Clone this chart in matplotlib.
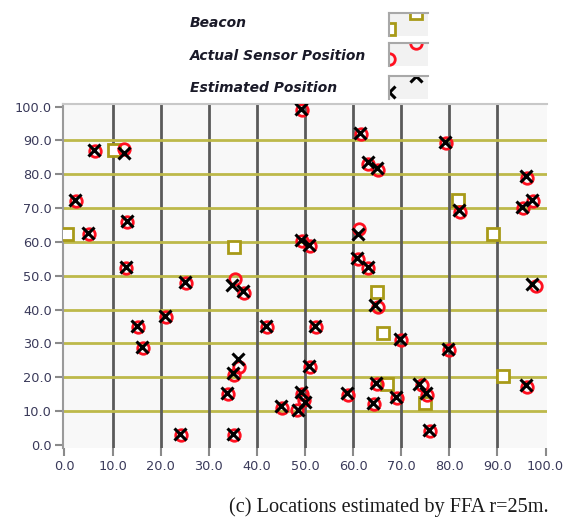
import matplotlib
matplotlib.use("Agg")
import matplotlib.pyplot as plt

# beacon positions
beacon_x = [0.5, 10.4, 35.2, 64.9, 66.3, 67.0, 75.0, 81.9, 89.1, 91.2]
beacon_y = [62.3, 87.2, 58.4, 45.3, 33.1, 18.1, 12.3, 72.3, 62.5, 20.4]

# actual sensor positions
actual_x = [49.4, 61.7, 79.3, 6.3, 12.4, 2.3, 5.1, 13.1, 12.8, 63.2,
            65.1, 96.2, 82.2, 95.3, 97.4, 49.3, 51.0, 61.3, 61.1, 63.2,
            25.2, 35.4, 37.3, 15.3, 16.3, 21.2, 42.0, 36.2, 35.3, 34.0,
            24.3, 35.3, 45.3, 48.3, 49.3, 49.7, 51.0, 52.2, 59.0, 65.1,
            69.9, 79.9, 64.9, 64.4, 69.1, 74.3, 75.3, 76.0, 96.2, 98.1]
actual_y = [99.0, 91.9, 89.2, 86.9, 87.6, 72.0, 62.3, 65.9, 52.3, 83.1,
            81.4, 78.9, 68.9, 69.9, 72.1, 60.3, 58.8, 63.7, 54.9, 52.3,
            47.8, 49.0, 44.9, 34.8, 28.7, 37.8, 34.8, 23.0, 20.8, 15.0,
            2.8, 2.8, 11.0, 10.3, 15.2, 13.2, 23.0, 34.8, 14.9, 40.9,
            30.9, 28.1, 17.9, 12.0, 13.9, 17.6, 14.9, 4.1, 17.2, 47.1]

# estimated positions (FFA)
est_x = [49.2, 61.4, 79.1, 6.1, 12.3, 2.2, 5.0, 12.9, 12.7, 63.0,
         64.9, 96.0, 82.1, 95.1, 97.2, 49.1, 50.8, 61.1, 60.9, 63.0,
         25.0, 34.9, 37.1, 15.1, 16.1, 21.0, 41.8, 36.0, 35.1, 33.8,
         24.1, 35.1, 45.1, 48.6, 49.1, 49.9, 50.8, 52.0, 58.8, 64.6,
         69.7, 79.7, 64.7, 64.2, 68.9, 73.6, 75.1, 75.8, 96.0, 97.2]
est_y = [99.3, 92.3, 89.6, 87.3, 86.3, 72.4, 62.7, 66.3, 52.7, 83.5,
         81.8, 79.4, 69.4, 70.3, 72.5, 60.7, 59.2, 62.5, 55.3, 52.7,
         48.2, 47.4, 45.4, 35.2, 29.1, 38.2, 35.2, 25.5, 21.3, 15.4,
         3.2, 3.2, 11.4, 10.4, 15.6, 12.8, 23.4, 35.2, 15.3, 41.4,
         31.3, 28.5, 18.3, 12.4, 14.3, 18.1, 15.3, 4.5, 17.6, 47.6]

ticks = [0, 10, 20, 30, 40, 50, 60, 70, 80, 90, 100]

olive = '#a89a18'
red = '#ff1020'
hgrid = '#bdb94a'
vgrid = '#5a5a5a'
tickcol = '#3a3a5a'

fig = plt.figure(figsize=(5.63, 5.22), dpi=100)
ax = fig.add_axes([63/563, 1-448/522, (546.5-63)/563, (448-104.3)/522])
ax.set_facecolor('#f8f8f8')
ax.set_xlim(-0.3, 100.2)
ax.set_ylim(-0.9, 100.7)

for v in ticks[1:-1]:
    ax.axvline(v, color=vgrid, lw=2, zorder=1)
    ax.axhline(v, color=hgrid, lw=2, zorder=1)

ax.plot(beacon_x, beacon_y, 's', ms=8.5, mfc='white', mec=olive, mew=2, zorder=3)
ax.plot(actual_x, actual_y, 'o', ms=8.3, mfc='none', mec=red, mew=2, zorder=4)
ax.plot(est_x, est_y, 'x', ms=8.5, color='black', mew=2.2, zorder=5)

ax.set_xticks(ticks)
ax.set_yticks(ticks)
ax.set_xticklabels(['%.1f' % t for t in ticks])
ax.set_yticklabels(['%.1f' % t for t in ticks])
ax.tick_params(axis='both', colors='#8a8a8a', labelcolor=tickcol, labelsize=9.3,
               length=6, width=1.5, direction='out')
ax.tick_params(axis='x', pad=3)
ax.tick_params(axis='y', pad=2)
for s in ['right', 'bottom']:
    ax.spines[s].set_visible(False)
ax.spines['top'].set_color('#c8c8c8')
ax.spines['top'].set_linewidth(1.5)
ax.spines['left'].set_color('#9a9a9a')
ax.spines['left'].set_linewidth(1.5)

# legend
labels = ['Beacon', 'Actual Sensor Position', 'Estimated Position']
label_y = [23, 56, 88]
box_top = [12.7, 42.5, 75.5]
styles = [dict(marker='s', ms=8.5, mfc='white', mec=olive, mew=2, color=olive),
          dict(marker='o', ms=8.3, mfc='none', mec=red, mew=2, color=red),
          dict(marker='x', ms=8.5, color='black', mew=2.2)]
for lab, ly, bt, st in zip(labels, label_y, box_top, styles):
    fig.text(190/563, 1-ly/522, lab, fontsize=10, fontweight='bold',
             fontstyle='italic', color='#1a1a28', va='center', ha='left')
    lax = fig.add_axes([389/563, 1-(bt+23)/522, 39/563, 23/522])
    lax.set_facecolor('#f2f2f2')
    lax.set_xlim(0, 1)
    lax.set_ylim(0, 1)
    lax.set_xticks([])
    lax.set_yticks([])
    for s in ['right', 'bottom']:
        lax.spines[s].set_visible(False)
    for s in ['top', 'left']:
        lax.spines[s].set_color('#a8a8a8')
        lax.spines[s].set_linewidth(1.5)
    lax.plot([0.0, 0.68], [0.3, 1.0], linestyle='none', **st)

fig.text(389/563, 1-507/522, '(c) Locations estimated by FFA r=25m.',
         fontsize=14.6, family='Liberation Serif', ha='center', va='center',
         color='#1a1a1a')

fig.savefig('out.png', dpi=100)
